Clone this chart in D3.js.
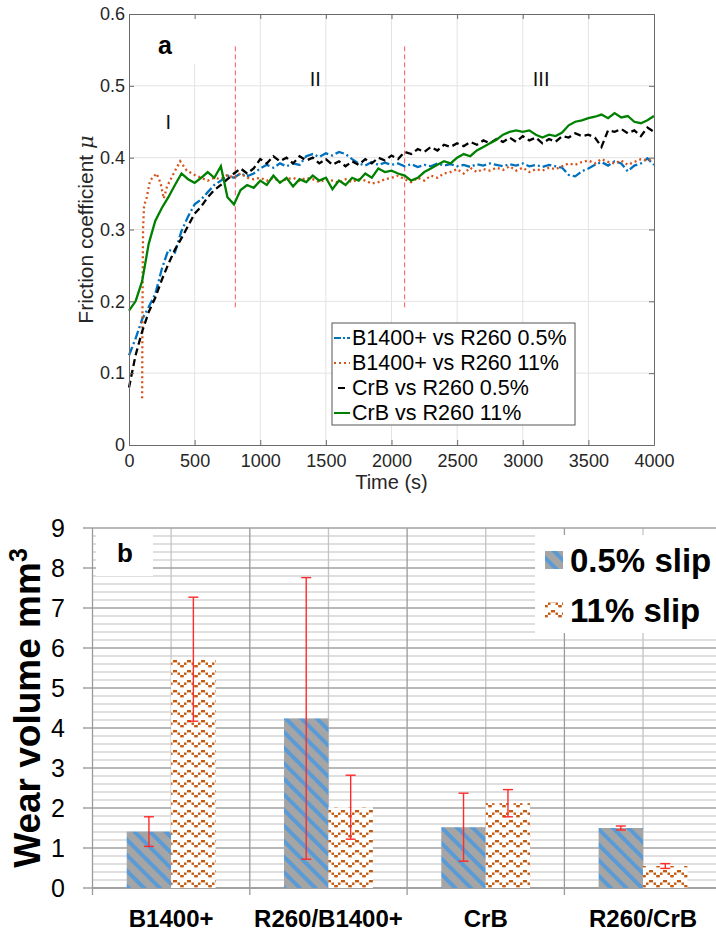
<!DOCTYPE html>
<html>
<head>
<meta charset="utf-8">
<script src="https://cdn.jsdelivr.net/npm/d3@7"></script>
<style>
  body { margin: 0; background: #fff; }
  svg { display: block; font-family: "Liberation Sans", Arial, sans-serif; }
</style>
</head>
<body>
<div id="chart"></div>
<script>
// ---- panel a data: friction coefficient vs time ----
let timeS = d3.range(0, 4001, 50);

let muB05 = [
  0.125,0.148,0.175,0.192,0.210,0.245,0.272,0.268,0.298,0.318,
  0.335,0.342,0.352,0.362,0.368,0.375,0.372,0.378,0.374,0.378,
  0.385,0.390,0.386,0.392,0.388,0.392,0.390,0.402,0.405,0.401,
  0.406,0.403,0.408,0.405,0.398,0.392,0.389,0.394,0.390,0.393,
  0.390,0.392,0.388,0.391,0.387,0.390,0.388,0.392,0.389,0.391,
  0.388,0.390,0.387,0.391,0.389,0.392,0.390,0.388,0.391,0.389,
  0.392,0.388,0.390,0.387,0.390,0.388,0.386,0.376,0.374,0.381,
  0.385,0.390,0.394,0.389,0.395,0.392,0.381,0.389,0.392,0.399,
  0.390];

let timeOrange = [100,103,107,115,130,160,210,240,265,290,340,390,440].concat(d3.range(500, 4001, 50));
let muB11 = [
  0.065,0.200,0.300,0.335,0.340,0.368,0.378,0.365,0.343,0.360,0.378,0.395,0.382,
  0.376,0.372,0.368,0.372,0.370,0.376,0.372,0.378,0.372,0.370,
  0.372,0.368,0.372,0.366,0.370,0.372,0.368,0.372,0.370,0.366,
  0.370,0.368,0.365,0.370,0.366,0.370,0.368,0.364,0.366,0.370,
  0.372,0.375,0.370,0.366,0.372,0.368,0.375,0.372,0.378,0.380,
  0.384,0.378,0.386,0.380,0.384,0.382,0.386,0.383,0.388,0.382,
  0.386,0.380,0.384,0.382,0.386,0.384,0.388,0.392,0.390,0.394,
  0.396,0.392,0.398,0.394,0.392,0.396,0.390,0.394,0.398,0.396,
  0.398];

let muC05 = [
  0.080,0.125,0.158,0.185,0.205,0.230,0.252,0.272,0.288,0.305,
  0.322,0.332,0.345,0.355,0.362,0.370,0.378,0.385,0.378,0.385,
  0.398,0.392,0.402,0.395,0.400,0.392,0.402,0.396,0.400,0.392,
  0.398,0.390,0.395,0.388,0.395,0.390,0.398,0.392,0.400,0.396,
  0.403,0.398,0.408,0.405,0.412,0.408,0.415,0.410,0.418,0.415,
  0.420,0.416,0.422,0.418,0.424,0.420,0.426,0.422,0.428,0.422,
  0.430,0.424,0.428,0.420,0.426,0.422,0.430,0.428,0.434,0.430,
  0.432,0.428,0.415,0.438,0.436,0.440,0.434,0.438,0.430,0.442,
  0.436];

let muC11 = [
  0.187,0.200,0.228,0.280,0.312,0.330,0.345,0.362,0.378,0.370,
  0.365,0.372,0.380,0.372,0.388,0.345,0.335,0.355,0.362,0.358,
  0.368,0.362,0.375,0.365,0.372,0.360,0.370,0.366,0.375,0.368,
  0.372,0.356,0.368,0.362,0.372,0.368,0.378,0.372,0.385,0.380,
  0.382,0.378,0.375,0.368,0.372,0.380,0.385,0.390,0.395,0.392,
  0.400,0.405,0.402,0.410,0.415,0.420,0.425,0.432,0.436,0.438,
  0.436,0.438,0.432,0.428,0.432,0.430,0.435,0.445,0.450,0.452,
  0.455,0.457,0.460,0.455,0.462,0.456,0.458,0.450,0.448,0.452,
  0.458];

let seriesNames = ["B1400+ vs R260 0.5%", "B1400+ vs R260 11%", "CrB vs R260 0.5%", "CrB vs R260 11%"];
let xTicksA = [0, 500, 1000, 1500, 2000, 2500, 3000, 3500, 4000];
let yTicksA = [0, 0.1, 0.2, 0.3, 0.4, 0.5, 0.6];
let phaseBounds = [810, 2100];
let phaseNames = ["I", "II", "III"];
let phaseLabelT = [300, 1420, 3140];
let phaseLabelMu = [0.45, 0.51, 0.51];

// ---- panel b data: wear volume ----
let categories = ["B1400+", "R260/B1400+", "CrB", "R260/CrB"];
let slips = ["0.5% slip", "11% slip"];
let wear05 = [1.41, 4.24, 1.52, 1.50];
let wear11 = [5.72, 2.02, 2.12, 0.55];
let err05 = [0.37, 3.52, 0.85, 0.05];
let err11 = [1.55, 0.80, 0.34, 0.06];
let yTicksB = [0, 1, 2, 3, 4, 5, 6, 7, 8, 9];

let width = 716;
let height = 932;

let svg = d3.select("#chart")
            .append("svg")
            .attr("width", width)
            .attr("height", height);

let defs = svg.append("defs");

// diagonal stripes for 0.5% slip
let stripe = defs.append("pattern")
    .attr("id", "stripe")
    .attr("patternUnits", "userSpaceOnUse")
    .attr("width", 11).attr("height", 11)
    .attr("patternTransform", "rotate(-45)");
stripe.append("rect").attr("width", 11).attr("height", 11).attr("fill", "#a5a5a5");
stripe.append("rect").attr("width", 4).attr("height", 11).attr("fill", "#5b9bd5");

// dashed wave for 11% slip
let wave = defs.append("pattern")
    .attr("id", "wave")
    .attr("patternUnits", "userSpaceOnUse")
    .attr("width", 14).attr("height", 10);
wave.append("rect").attr("width", 14).attr("height", 10).attr("fill", "#fff");
[[5,0,4],[2,2.5,2.5],[9.5,2.5,2.5],[0,5,1.8],[12.2,5,1.8]].forEach(function(r){
    wave.append("rect").attr("x", r[0]).attr("y", r[1]).attr("width", r[2]).attr("height", 2.4).attr("fill", "#c55a11");
});

// =================== panel a ===================
let xA = d3.scaleLinear().domain([0, 4000]).range([129, 654]);
let yA = d3.scaleLinear().domain([0, 0.6]).range([445, 14]);

let gA = svg.append("g");

// grid
gA.append("g").selectAll("line").data(xTicksA.slice(1, -1)).enter()
    .append("line")
    .attr("x1", d => xA(d)).attr("x2", d => xA(d))
    .attr("y1", yA(0.6)).attr("y2", yA(0))
    .attr("stroke", "#e3e3e3");
gA.append("g").selectAll("line").data(yTicksA.slice(1, -1)).enter()
    .append("line")
    .attr("x1", xA(0)).attr("x2", xA(4000))
    .attr("y1", d => yA(d)).attr("y2", d => yA(d))
    .attr("stroke", "#e3e3e3");

// white box behind "a"
gA.append("rect").attr("x", 131).attr("y", 15).attr("width", 98).attr("height", 49).attr("fill", "#fff");

// phase boundaries
gA.selectAll(".phase").data(phaseBounds).enter()
    .append("line")
    .attr("x1", d => xA(d)).attr("x2", d => xA(d))
    .attr("y1", yA(0.555)).attr("y2", yA(0.19))
    .attr("stroke", "#ff5a5a").attr("stroke-width", 1)
    .attr("stroke-dasharray", "5,3");

let seriesA = [
    {name: seriesNames[0], t: timeS, v: muB05, color: "#0072bd", dash: "9,3,2,3"},
    {name: seriesNames[1], t: timeOrange, v: muB11, color: "#d95319", dash: "2,3"},
    {name: seriesNames[2], t: timeS, v: muC05, color: "#000000", dash: "7,4"},
    {name: seriesNames[3], t: timeS, v: muC11, color: "#008000", dash: null}
];

let line = d3.line()
    .x(d => xA(d[0]))
    .y(d => yA(d[1]));

seriesA.forEach(function(s){
    gA.append("path")
        .datum(s.t.map((t, i) => [t, s.v[i]]))
        .attr("d", line)
        .attr("fill", "none")
        .attr("stroke", s.color)
        .attr("stroke-width", 2.3)
        .attr("stroke-dasharray", s.dash);
});

// axes (ticks inside, box)
let fmtA = d => d === 0 ? "0" : d.toFixed(1);
let axisStyle = function(g){
    g.selectAll("path").attr("stroke", "#6b6b6b");
    g.selectAll("line").attr("stroke", "#6b6b6b");
    g.selectAll("text").attr("fill", "#262626").style("font-size", "18px");
};
gA.append("g").attr("transform", `translate(0, ${yA(0)})`)
    .call(d3.axisBottom(xA).tickValues(xTicksA).tickSize(-5).tickSizeOuter(0).tickPadding(9).tickFormat(d3.format("d")))
    .call(axisStyle);
gA.append("g").attr("transform", `translate(0, ${yA(0.6)})`)
    .call(d3.axisTop(xA).tickValues(xTicksA).tickSize(-5).tickSizeOuter(0).tickFormat(""))
    .call(axisStyle);
gA.append("g").attr("transform", `translate(${xA(0)}, 0)`)
    .call(d3.axisLeft(yA).tickValues(yTicksA).tickSize(-5).tickSizeOuter(0).tickPadding(4).tickFormat(fmtA))
    .call(axisStyle);
gA.append("g").attr("transform", `translate(${xA(4000)}, 0)`)
    .call(d3.axisRight(yA).tickValues(yTicksA).tickSize(-5).tickSizeOuter(0).tickFormat(""))
    .call(axisStyle);
gA.selectAll(".domain").attr("stroke", "#6b6b6b");

// labels
gA.append("text")
    .attr("x", (xA(0) + xA(4000)) / 2).attr("y", 489)
    .attr("text-anchor", "middle").attr("fill", "#262626")
    .style("font-size", "20px")
    .text("Time (s)");

let yl = gA.append("text")
    .attr("transform", `translate(93, ${(yA(0) + yA(0.6)) / 2}) rotate(-90)`)
    .attr("text-anchor", "middle").attr("fill", "#262626")
    .style("font-size", "21px");
yl.append("tspan").text("Friction coefficient ");
yl.append("tspan").style("font-style", "italic").style("font-family", "'DejaVu Serif', serif").text("μ");

gA.append("text").attr("x", xA(274)).attr("y", yA(0.555) + 8)
    .attr("text-anchor", "middle").style("font-size", "25px").style("font-weight", "bold")
    .text("a");

gA.selectAll(".phaseLabel").data(phaseNames).enter()
    .append("text")
    .attr("x", (d, i) => xA(phaseLabelT[i]))
    .attr("y", (d, i) => yA(phaseLabelMu[i]) + 7)
    .attr("text-anchor", "middle").attr("fill", "#111")
    .style("font-size", "20px")
    .text(d => d);

// legend a
let legA = gA.append("g").attr("transform", "translate(332, 323)");
legA.append("rect").attr("width", 243).attr("height", 102)
    .attr("fill", "#fff").attr("stroke", "#555").attr("stroke-width", 1);
seriesA.forEach(function(s, i){
    let cy = 15 + i * 25;
    legA.append("line")
        .attr("x1", s.dash === "7,4" ? 6 : 2).attr("x2", s.dash === "7,4" ? 13 : 18)
        .attr("y1", cy).attr("y2", cy)
        .attr("stroke", s.color).attr("stroke-width", 2)
        .attr("stroke-dasharray", s.dash === "9,3,2,3" ? "7,2,2,2" : (s.dash === "7,4" ? null : s.dash));
    legA.append("text")
        .attr("x", 20).attr("y", cy + 7)
        .attr("fill", "#000")
        .style("font-size", "21.5px")
        .text(s.name);
});

// =================== panel b ===================
let xB = d3.scaleBand().domain(categories).range([92.5, 92.5 + 4 * 157.3]).paddingInner(0).paddingOuter(0);
let xSub = d3.scaleBand().domain(slips).range([0, xB.bandwidth()]).paddingInner(0).paddingOuter(0.77);
let yB = d3.scaleLinear().domain([0, 9]).range([888, 528]);

let gB = svg.append("g");

// minor grid every 0.2
let minorTicks = d3.range(0, 9.01, 0.2).filter(d => Math.abs(d - Math.round(d)) > 0.01);
gB.append("g").selectAll("line").data(minorTicks).enter()
    .append("line")
    .attr("x1", 92.5).attr("x2", width)
    .attr("y1", d => yB(d)).attr("y2", d => yB(d))
    .attr("stroke", "#d4d4d4").attr("stroke-width", 1.3);

// vertical grid: category centres and boundaries
gB.append("g").selectAll("line").data(categories).enter()
    .append("line")
    .attr("x1", d => xB(d) + xB.bandwidth() / 2).attr("x2", d => xB(d) + xB.bandwidth() / 2)
    .attr("y1", yB(9)).attr("y2", yB(0))
    .attr("stroke", "#c4c4c4").attr("stroke-width", 1.3);
gB.append("g").selectAll("line").data(categories.slice(1)).enter()
    .append("line")
    .attr("x1", d => xB(d)).attr("x2", d => xB(d))
    .attr("y1", yB(9)).attr("y2", yB(0) + 7)
    .attr("stroke", "#9a9a9a").attr("stroke-width", 1.3);

// major grid
gB.append("g").selectAll("line").data(yTicksB).enter()
    .append("line")
    .attr("x1", 83).attr("x2", width)
    .attr("y1", d => yB(d)).attr("y2", d => yB(d))
    .attr("stroke", "#a0a0a0").attr("stroke-width", 1.3);

// white boxes (label b and legend)
gB.append("rect").attr("x", 96).attr("y", 529).attr("width", 57).attr("height", 47).attr("fill", "#fff");
gB.append("rect").attr("x", 535).attr("y", 535).attr("width", 181).attr("height", 98).attr("fill", "#fff");

// axis lines
gB.append("line").attr("x1", 92.5).attr("x2", 92.5).attr("y1", yB(9)).attr("y2", yB(0) + 7)
    .attr("stroke", "#9a9a9a").attr("stroke-width", 1.3);
gB.append("line").attr("x1", 92.5).attr("x2", width).attr("y1", yB(0)).attr("y2", yB(0))
    .attr("stroke", "#9a9a9a").attr("stroke-width", 1.3);

// bars
let barData = [];
categories.forEach(function(c, i){
    barData.push({cat: c, slip: slips[0], v: wear05[i], e: err05[i], fill: "url(#stripe)"});
    barData.push({cat: c, slip: slips[1], v: wear11[i], e: err11[i], fill: "url(#wave)"});
});

gB.append("g").selectAll("rect").data(barData).enter()
    .append("rect")
    .attr("x", d => xB(d.cat) + xSub(d.slip))
    .attr("width", xSub.bandwidth())
    .attr("y", d => yB(d.v))
    .attr("height", d => yB(0) - yB(d.v))
    .attr("fill", d => d.fill);

// error bars
let eb = gB.append("g").selectAll("g").data(barData).enter().append("g")
    .attr("stroke", "#ff2a2a").attr("stroke-width", 1.4);
eb.append("line")
    .attr("x1", d => xB(d.cat) + xSub(d.slip) + xSub.bandwidth() / 2)
    .attr("x2", d => xB(d.cat) + xSub(d.slip) + xSub.bandwidth() / 2)
    .attr("y1", d => yB(d.v + d.e)).attr("y2", d => yB(d.v - d.e));
[1, -1].forEach(function(sg){
    eb.append("line")
        .attr("x1", d => xB(d.cat) + xSub(d.slip) + xSub.bandwidth() / 2 - 5)
        .attr("x2", d => xB(d.cat) + xSub(d.slip) + xSub.bandwidth() / 2 + 5)
        .attr("y1", d => yB(d.v + sg * d.e)).attr("y2", d => yB(d.v + sg * d.e));
});

// y tick labels
gB.append("g").selectAll("text").data(yTicksB).enter()
    .append("text")
    .attr("x", 65).attr("y", d => yB(d) + 9)
    .attr("text-anchor", "end").attr("fill", "#000")
    .style("font-size", "25px")
    .text(d => d);

// category labels
gB.append("g").selectAll("text").data(categories).enter()
    .append("text")
    .attr("x", d => xB(d) + xB.bandwidth() / 2).attr("y", 927)
    .attr("text-anchor", "middle").attr("fill", "#000")
    .style("font-size", "24px").style("font-weight", "bold")
    .text(d => d);

// y axis title
let ylb = gB.append("text")
    .attr("transform", `translate(40, ${708}) rotate(-90)`)
    .attr("text-anchor", "middle").attr("fill", "#000")
    .style("font-size", "37px").style("font-weight", "bold");
ylb.append("tspan").text("Wear volume mm");
ylb.append("tspan").attr("dy", -13).style("font-size", "25px").text("3");

gB.append("text").attr("x", 125).attr("y", 562)
    .attr("text-anchor", "middle").style("font-size", "26px").style("font-weight", "bold")
    .text("b");

// legend b
let legB = gB.append("g");
slips.forEach(function(s, i){
    legB.append("rect")
        .attr("x", 545).attr("y", 551 + i * 51)
        .attr("width", 18).attr("height", 18)
        .attr("fill", i === 0 ? "url(#stripe)" : "url(#wave)");
    legB.append("text")
        .attr("x", 570).attr("y", 572 + i * 50)
        .attr("fill", "#000")
        .style("font-size", "33px").style("font-weight", "bold")
        .text(s);
});
</script>
</body>
</html>
